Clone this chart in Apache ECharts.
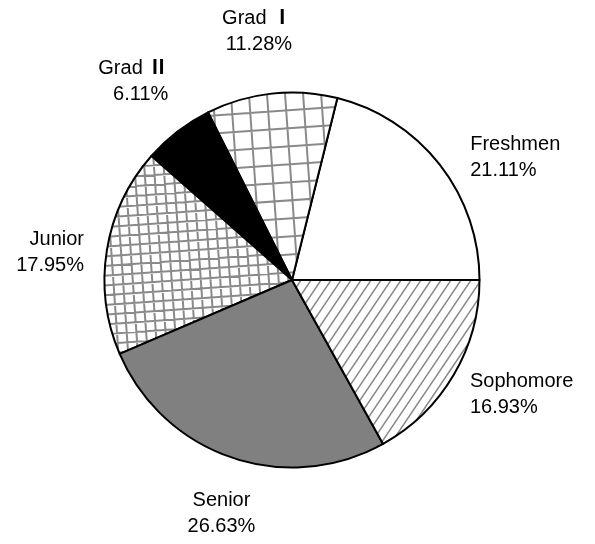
<!DOCTYPE html>
<html><head><meta charset="utf-8">
<script src="https://cdn.jsdelivr.net/npm/echarts@6/dist/echarts.min.js"></script>
<style>html,body{margin:0;padding:0;background:#fff}#c{width:595px;height:544px}</style>
</head><body><div id="c"></div>
<script>
// ---- data ----
const categories = ['Freshmen', 'Grad Ⅰ', 'Grad Ⅱ', 'Junior', 'Senior', 'Sophomore'];
const shares = [21.11, 11.28, 6.11, 17.95, 26.63, 16.93];

// ---- label nudges relative to ECharts' outside-label anchor ----
const labelNudge = [
  {dx: 16, dy: 0},
  {dx: 27, dy: -50},
  {dx: 3, dy: -40},
  {dx: -6, dy: 4},
  {dx: -1, dy: 45, align: 'center'},
  {dx: 1, dy: 13}
];

const W = 595, H = 544;
const FONT = '"Liberation Sans", Arial, "Noto Sans CJK JP", sans-serif';
function makeCanvas() {
  const c = document.createElement('canvas'); c.width = W; c.height = H;
  const x = c.getContext('2d'); x.fillStyle = '#fff'; x.fillRect(0, 0, W, H);
  return [c, x];
}
function gridPattern(step, angleDeg, lw, color) {
  const [c, ctx] = makeCanvas();
  ctx.save(); ctx.translate(W / 2, H / 2); ctx.rotate(-angleDeg * Math.PI / 180);
  ctx.strokeStyle = color; ctx.lineWidth = lw; ctx.beginPath();
  const n = Math.ceil(900 / step);
  for (let i = -n; i <= n; i++) {
    const v = i * step;
    ctx.moveTo(v, -900); ctx.lineTo(v, 900);
    ctx.moveTo(-900, v); ctx.lineTo(900, v);
  }
  ctx.stroke(); ctx.restore();
  return c;
}
function hatchPattern(step, angleDeg, lw, color) {
  const [c, ctx] = makeCanvas();
  const run = H / Math.tan(angleDeg * Math.PI / 180);
  ctx.strokeStyle = color; ctx.lineWidth = lw; ctx.beginPath();
  for (let b = -run - step; b <= W + step; b += step) { ctx.moveTo(b, H); ctx.lineTo(b + run, 0); }
  ctx.stroke();
  return c;
}

const fills = [
  '#ffffff',
  {image: gridPattern(18, 4, 2, '#8a8a8a'), repeat: 'no-repeat'},
  '#000000',
  {image: gridPattern(9.7, 4, 2, '#8a8a8a'), repeat: 'no-repeat'},
  '#808080',
  {image: hatchPattern(10, 56, 1.5, '#8a8a8a'), repeat: 'no-repeat'}
];

const chart = echarts.init(document.getElementById('c'), null, {renderer: 'canvas'});
chart.setOption({
  animation: false,
  backgroundColor: '#ffffff',
  series: [{
    type: 'pie',
    center: [292, 280],
    radius: 187.5,
    startAngle: 0,
    clockwise: false,
    avoidLabelOverlap: false,
    silent: true,
    data: categories.map((name, i) => ({
      name: name,
      value: shares[i],
      itemStyle: {color: fills[i]}
    })),
    itemStyle: {borderColor: '#000', borderWidth: 2},
    label: {
      show: true,
      position: 'outside',
      color: '#000',
      fontSize: 20,
      lineHeight: 26,
      fontFamily: FONT,
      formatter: p => p.name.replace(/([ⅠⅡ])/g, '{r|$1}') + '\n' + p.value.toFixed(2) + '%',
      rich: {
        r: {fontSize: 20, lineHeight: 26, fontWeight: 'bold', color: '#000', fontFamily: FONT}
      }
    },
    labelLine: {show: false, length: 12, length2: 0},
    labelLayout: function (p) {
      const n = labelNudge[p.dataIndex];
      const o = {dx: n.dx, dy: n.dy};
      if (n.align) o.align = n.align;
      return o;
    }
  }]
});
</script>
</body></html>
